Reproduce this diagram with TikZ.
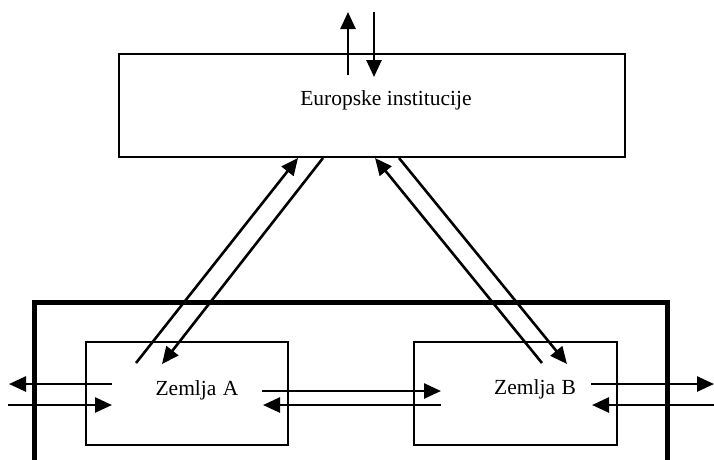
\documentclass[tikz,border=0pt]{standalone}
\usepackage{fontspec}
\setmainfont{Liberation Serif}
\usetikzlibrary{arrows.meta}
\begin{document}
\begin{tikzpicture}[x=1pt,y=-1pt,
  box/.style={draw,line width=2.2pt,minimum width=#1,minimum height=103pt,inner sep=0pt},
  lbl/.style={font=\fontsize{21.5}{25}\selectfont,inner sep=0pt},
  flow/.style={line width=2.6pt,-{Triangle[length=17pt,width=15pt]}},
  frame/.style={line width=5pt}]
\useasboundingbox (0,0) rectangle (714,459);
% boxes
\node[box=506pt] (eu) at (372,105.5) {};
\node[box=202pt] (za) at (187,393.5) {};
\node[box=203pt] (zb) at (515.5,393.5) {};
\node[lbl] (eut) at (386,100) {Europske institucije};
\node[lbl] (zat) at (197,390) {Zemlja\hspace{0.3em}A};
\node[lbl] (zbt) at (535,389) {Zemlja\hspace{0.3em}B};
% outer frame
\coordinate (f1) at (34,470);
\coordinate (f2) at (34,302);
\coordinate (f3) at (667,302);
\coordinate (f4) at (667,470);
\draw[frame] (f1) -- (f2) -- (f3) -- (f4);
% top arrows
\coordinate (t1s) at (348,75);
\coordinate (t1e) at (348,12);
\coordinate (t2s) at (374,12);
\coordinate (t2e) at (374,77);
\draw[flow] (t1s) -- (t1e);
\draw[flow] (t2s) -- (t2e);
% diagonals
\coordinate (d1s) at (136,363);
\coordinate (d1e) at (298,158);
\coordinate (d2s) at (323,158);
\coordinate (d2e) at (162,364);
\coordinate (d3s) at (542,363);
\coordinate (d3e) at (375,158);
\coordinate (d4s) at (399,158);
\coordinate (d4e) at (567,364);
\draw[flow] (d1s) -- (d1e);
\draw[flow] (d2s) -- (d2e);
\draw[flow] (d3s) -- (d3e);
\draw[flow] (d4s) -- (d4e);
% A left
\coordinate (al1s) at (112,384);
\coordinate (al1e) at (9,384);
\coordinate (al2s) at (8,405);
\coordinate (al2e) at (112,405);
\draw[flow] (al1s) -- (al1e);
\draw[flow] (al2s) -- (al2e);
% A <-> B
\coordinate (ab1s) at (262,391);
\coordinate (ab1e) at (441,391);
\coordinate (ab2s) at (441,405);
\coordinate (ab2e) at (263,405);
\draw[flow] (ab1s) -- (ab1e);
\draw[flow] (ab2s) -- (ab2e);
% B right
\coordinate (br1s) at (591,384);
\coordinate (br1e) at (714,384);
\coordinate (br2s) at (714,405);
\coordinate (br2e) at (592,405);
\draw[flow] (br1s) -- (br1e);
\draw[flow] (br2s) -- (br2e);
\end{tikzpicture}
\end{document}
